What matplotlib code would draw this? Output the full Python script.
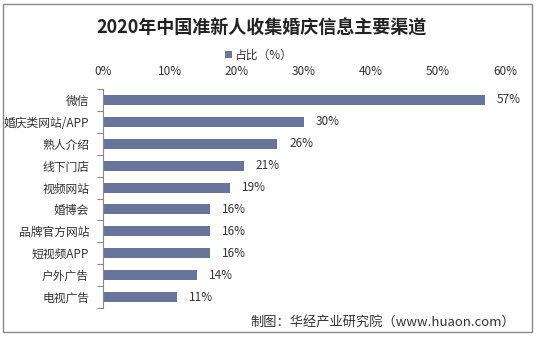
import numpy as np
import matplotlib.pyplot as plt
from matplotlib.patches import Rectangle

plt.rcParams['font.family'] = ['Noto Sans CJK SC', 'DejaVu Sans']

channels = ['微信', '婚庆类网站/APP', '熟人介绍', '线下门店', '视频网站',
            '婚博会', '品牌官方网站', '短视频APP', '户外广告', '电视广告']
shares = [57, 30, 26, 21, 19, 16, 16, 16, 14, 11]
x_ticks = [0, 10, 20, 30, 40, 50, 60]

bar_color = '#67759a'
text_color = '#333333'

fig = plt.figure(figsize=(5.37, 3.39), dpi=100)
ax = fig.add_axes([0.1918, 0.0914, 0.7486, 0.6461])

y = np.arange(len(channels))
ax.barh(y, shares, height=0.46, color=bar_color, label='占比（%）')
ax.set_ylim(len(channels) - 0.5, -0.5)
ax.set_xlim(0, 60)

for yi, v in zip(y, shares):
    ax.text(v + 1.8, yi, f'{v}%', va='center', ha='left', fontsize=8.5,
            color=text_color)

ax.xaxis.tick_top()
ax.set_xticks(x_ticks)
ax.set_xticklabels([f'{t}%' for t in x_ticks], fontsize=8.5, color=text_color)
ax.tick_params(axis='x', length=0, pad=8)

ax.set_yticks(y)
ax.set_yticklabels(channels, fontsize=8.5, color=text_color)
ax.set_yticks(np.arange(-0.5, len(channels), 1), minor=True)
ax.tick_params(axis='y', which='major', length=0, pad=10)
ax.tick_params(axis='y', which='minor', length=4, color='#888888', width=0.8)

for side in ['top', 'right', 'bottom']:
    ax.spines[side].set_visible(False)
ax.spines['left'].set_color('#888888')
ax.spines['left'].set_linewidth(0.8)

fig.text(0.487, 0.918, '2020年中国准新人收集婚庆信息主要渠道', ha='center',
         va='center', fontsize=13, fontweight='bold', color='#222222')

fig.legend(loc='center', bbox_to_anchor=(0.482, 0.838), frameon=False,
           fontsize=8.5, handlelength=0.6, handleheight=0.6, handletextpad=0.2,
           labelcolor=text_color)

fig.text(0.959, 0.05, '制图：华经产业研究院（www.huaon.com）', ha='right',
         va='center', fontsize=9.5, color=text_color)

# outer frame around the whole chart
fig.patches.append(Rectangle((0.006, 0.021), 0.985, 0.966,
                             transform=fig.transFigure, fill=False,
                             edgecolor='#888888', linewidth=1.0))

fig.savefig('out.png', dpi=100)
